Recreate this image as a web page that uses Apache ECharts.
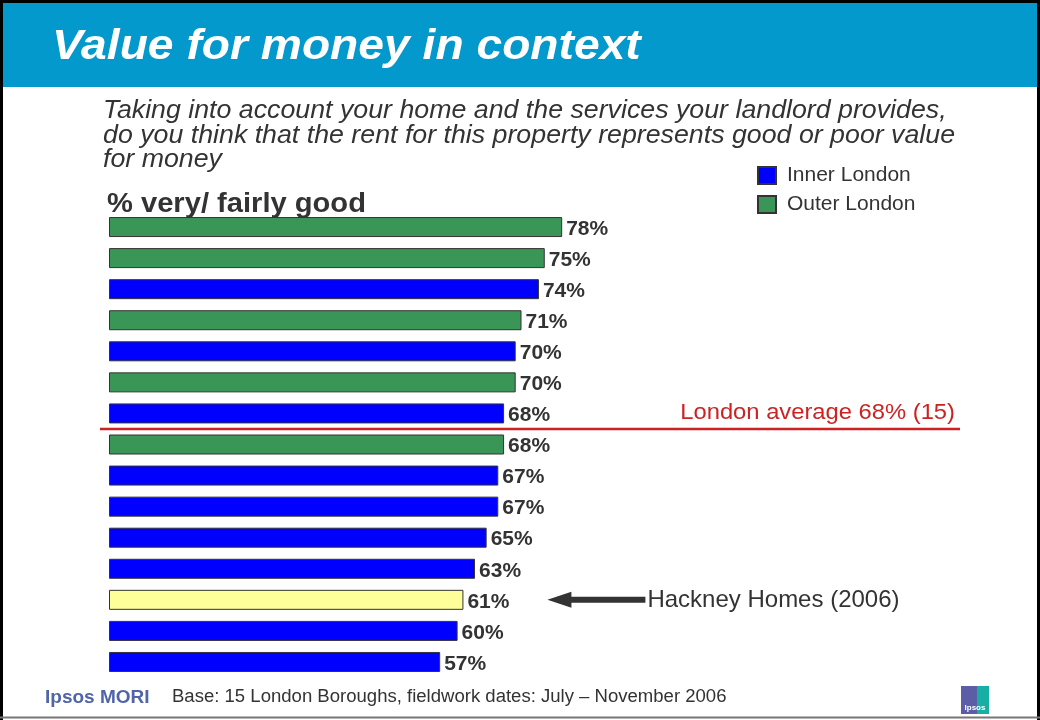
<!DOCTYPE html>
<html>
<head>
<meta charset="utf-8">
<script src="https://cdn.jsdelivr.net/npm/echarts@6/dist/echarts.min.js"></script>
<style>html,body{margin:0;padding:0;background:#fff}#c{width:1040px;height:720px}</style>
</head>
<body>
<div id="c"></div>
<script>
// ---- data ----
const categories = ['B1','B2','B3','B4','B5','B6','B7','B8','B9','B10','B11','B12','Hackney','B14','B15'];
const values = [78,75,74,71,70,70,68,68,67,67,65,63,61,60,57];
const groups = ['Outer','Outer','Inner','Outer','Inner','Outer','Inner','Outer','Inner','Inner','Inner','Inner','Hackney','Inner','Inner'];
const seriesNames = {Inner:'Inner London', Outer:'Outer London', Hackney:'Hackney Homes (2006)'};
const londonAverageLabel = 'London average 68% (15)';
const hackneyLabel = 'Hackney Homes (2006)';
const titleText = 'Value for money in context';
const questionText = 'Taking into account your home and the services your landlord provides,\ndo you think that the rent for this property represents good or poor value\nfor money';
const measureText = '% very/ fairly good';
const footerText = 'Base: 15 London Boroughs, fieldwork dates: July \u2013 November 2006';

const colors = {Inner:'#0000FF', Outer:'#3A9657', Hackney:'#FFFF99'};

const chart = echarts.init(document.getElementById('c'), null, {renderer:'canvas'});
const FONT = '"Liberation Sans", Arial, Helvetica, sans-serif';

function makeSeries(g){
  return {
    name: seriesNames[g], type:'bar', stack:'all', barWidth:20,
    data: values.map((v,i)=> groups[i]===g ? v : null),
    itemStyle:{color:colors[g], borderColor:'#333', borderWidth:1},
    label:{show:true, position:'right', distance:4, offset:[0,2], formatter:'{c}%',
      fontFamily:FONT, fontWeight:'bold', fontSize:21, color:'#333'},
    emphasis:{disabled:true}, animation:false
  };
}

chart.setOption({
  animation:false,
  textStyle:{fontFamily:FONT},
  grid:{left:109, width:581, top:211.5, height:466, containLabel:false},
  xAxis:{type:'value', min:0, max:100, show:false},
  yAxis:{type:'category', data:categories, inverse:true, show:false},
  legend:{orient:'vertical', left:757, top:165, padding:0, itemWidth:18, itemHeight:17, itemGap:8,
    icon:'rect', data:['Inner London','Outer London'],
    textStyle:{fontSize:21, color:'#333', fontFamily:FONT, padding:[0,0,0,6]}},
  series:[makeSeries('Inner'), makeSeries('Outer'), makeSeries('Hackney')]
});

// overlay graphics computed from the chart's own scales
const yA = chart.convertToPixel({yAxisIndex:0}, 6);
const yB = chart.convertToPixel({yAxisIndex:0}, 7);
const avgY = (yA + yB) / 2;
const hIdx = groups.indexOf('Hackney');
const hY = chart.convertToPixel({yAxisIndex:0}, hIdx);
const hX = chart.convertToPixel({xAxisIndex:0}, values[hIdx]);
const arrowX = hX + 84;

chart.setOption({
  graphic:[
    {type:'rect', shape:{x:0,y:0,width:1040,height:87}, style:{fill:'#0399CC'}, z:-1},
    {type:'text', x:52, y:26, scaleX:1.1, style:{text:titleText, fill:'#fff', font:'italic bold 42px '+FONT, verticalAlign:'top'}},
    {type:'text', x:103, y:99, scaleX:1.07, style:{text:questionText, fill:'#333', font:'italic 25px '+FONT, lineHeight:24.5, verticalAlign:'top'}},
    {type:'text', x:107, y:190, scaleX:1.04, style:{text:measureText, fill:'#333', font:'bold 28px '+FONT, verticalAlign:'top'}},
    {type:'line', shape:{x1:100, y1:avgY, x2:960, y2:avgY}, style:{stroke:'#CC2222', lineWidth:2.5}},
    {type:'text', x:955, y:avgY-5, scaleX:1.08, style:{text:londonAverageLabel, fill:'#CC2222', font:'22px '+FONT, align:'right', verticalAlign:'bottom'}},
    {type:'polygon', shape:{points:[[arrowX,hY],[arrowX+24,hY-8],[arrowX+24,hY-3],[arrowX+98,hY-3],[arrowX+98,hY+3],[arrowX+24,hY+3],[arrowX+24,hY+8]]}, style:{fill:'#333'}},
    {type:'text', x:arrowX+100, y:hY+1, style:{text:hackneyLabel, fill:'#333', font:'24px '+FONT, verticalAlign:'middle'}},
    {type:'text', left:45, top:688, style:{text:'Ipsos MORI', fill:'#5064A8', font:'bold 19px '+FONT}},
    {type:'text', x:172, y:688, scaleX:1.03, style:{text:footerText, fill:'#333', font:'18px '+FONT, verticalAlign:'top'}},
    {type:'rect', shape:{x:961,y:686,width:16,height:28}, style:{fill:'#5B5EA6'}},
    {type:'rect', shape:{x:977,y:686,width:12,height:28}, style:{fill:'#17AFA3'}},
    {type:'text', x:975, y:708, style:{text:'Ipsos', fill:'#fff', font:'bold 8px '+FONT, align:'center', verticalAlign:'middle'}},
    {type:'line', shape:{x1:0,y1:1.5,x2:1040,y2:1.5}, style:{stroke:'#000', lineWidth:3}},
    {type:'line', shape:{x1:1.5,y1:0,x2:1.5,y2:720}, style:{stroke:'#000', lineWidth:3}},
    {type:'line', shape:{x1:1038.5,y1:0,x2:1038.5,y2:720}, style:{stroke:'#000', lineWidth:3}},
    {type:'line', shape:{x1:0,y1:717.5,x2:1040,y2:717.5}, style:{stroke:'#777', lineWidth:2}}
  ]
});
</script>
</body>
</html>
